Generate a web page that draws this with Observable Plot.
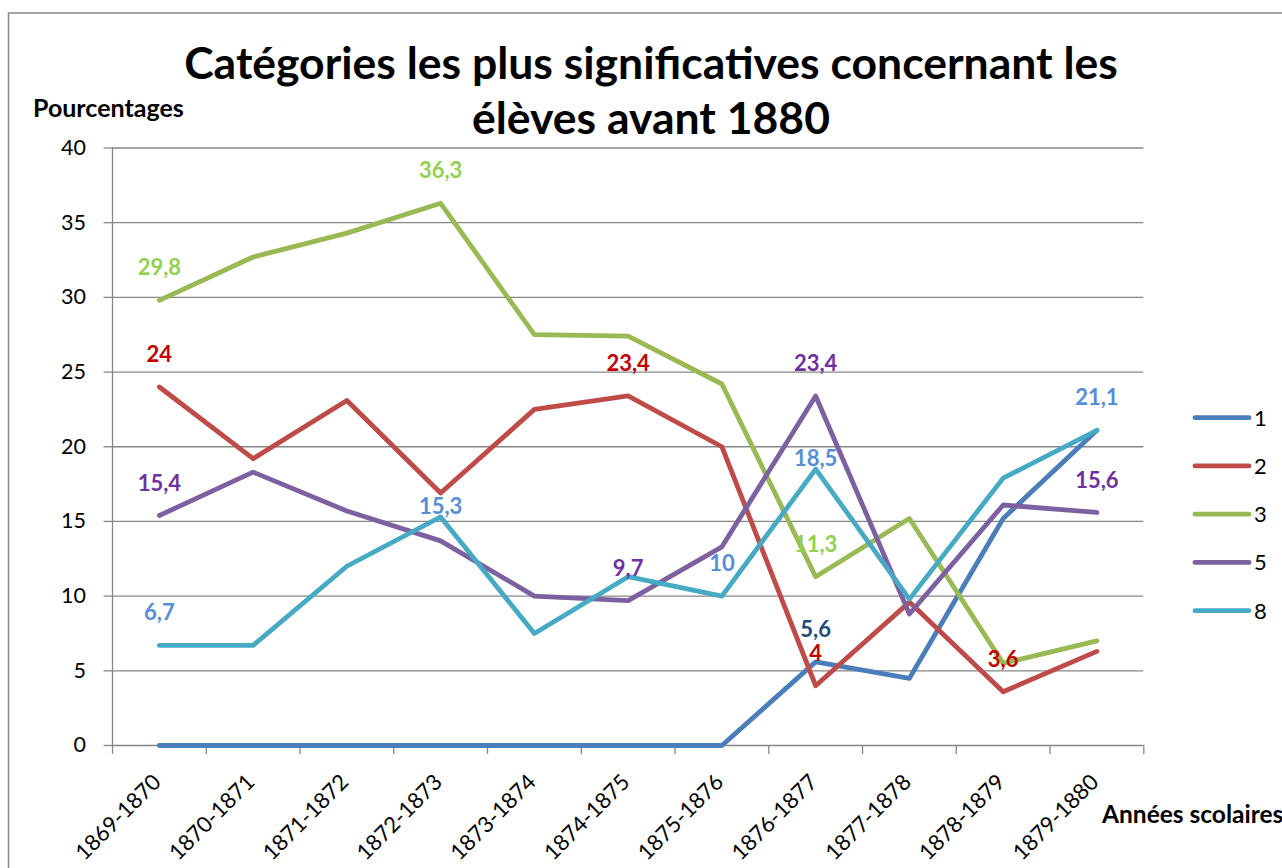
<!DOCTYPE html>
<html><head><meta charset="utf-8">
<script src="https://cdn.jsdelivr.net/npm/d3@7"></script>
<script src="https://cdn.jsdelivr.net/npm/@observablehq/plot@0.6"></script>
<style>
body{margin:0;background:#fff;overflow:hidden}
#chart{position:relative;width:1282px;height:868px}
</style>
</head><body><div id="chart"></div>
<script>
// ---- data ----
const categories = ["1869-1870","1870-1871","1871-1872","1872-1873","1873-1874","1874-1875","1875-1876","1876-1877","1877-1878","1878-1879","1879-1880"];
const seriesNames = ["1","2","3","5","8"];
const values1 = [0,0,0,0,0,0,0,5.6,4.5,15.2,21.1];
const values2 = [24,19.2,23.1,16.9,22.5,23.4,20,4,9.6,3.6,6.3];
const values3 = [29.8,32.7,34.3,36.3,27.5,27.4,24.2,11.3,15.2,5.5,7];
const values5 = [15.4,18.3,15.7,13.7,10,9.7,13.3,23.4,8.8,16.1,15.6];
const values8 = [6.7,6.7,12,15.3,7.5,11.3,10,18.5,9.8,17.9,21.1];
const seriesColors = ["#4A7EBB","#BE4B48","#98B954","#7D60A0","#46AAC5"];
const labelColors = ["#1F497D","#C00000","#92D050","#7030A0","#558ED5"];
// indices of the points that carry a value label, per series
const labelIdx1 = [7];
const labelIdx2 = [0,5,7,9];
const labelIdx3 = [0,3,7];
const labelIdx5 = [0,5,7,10];
const labelIdx8 = [0,3,6,7,10];
// labels placed close to their point rather than above it
const nearLabels = ["8:3","8:7"];
const yTicks = [0,5,10,15,20,25,30,35,40];
const titleLines = ["Catégories les plus significatives concernant les","élèves avant 1880"];
const yTitle = "Pourcentages";
const xTitle = "Années scolaires";

// ---- build ----
const allValues = [values1, values2, values3, values5, values8];
const allLabelIdx = [labelIdx1, labelIdx2, labelIdx3, labelIdx5, labelIdx8];
const fmt = v => String(v).replace(".", ",");
const edges = d3.range(-0.5, categories.length, 1);
const grid = "#868686";
const FONT = "Lato, 'Open Sans', sans-serif";

const lineMarks = allValues.map((vals, s) =>
  Plot.line(vals, {x: (d, i) => i, y: d => d, stroke: seriesColors[s], strokeWidth: 4.8,
    strokeLinecap: "round", strokeLinejoin: "round"}));

const labelMarks = allValues.flatMap((vals, s) => {
  const pts = allLabelIdx[s].map(i => ({i, v: vals[i], near: nearLabels.includes(seriesNames[s] + ":" + i)}));
  return [
    Plot.text(pts.filter(p => !p.near), {x: "i", y: "v", text: p => fmt(p.v), fill: labelColors[s],
      dy: -32, fontSize: 22, fontWeight: "bold"}),
    Plot.text(pts.filter(p => p.near), {x: "i", y: "v", text: p => fmt(p.v), fill: labelColors[s],
      dy: -10, fontSize: 22, fontWeight: "bold"})
  ];
});

const svg = Plot.plot({
  width: 1282, height: 868,
  marginLeft: 112, marginRight: 138.7, marginTop: 147.5, marginBottom: 123,
  x: {domain: [-0.5, categories.length - 0.5], axis: null},
  y: {domain: [0, 40], axis: null},
  style: {fontFamily: FONT, background: "white", color: "black", overflow: "visible"},
  marks: [
    Plot.ruleY(yTicks.filter(d => d > 0), {stroke: grid, strokeWidth: 1.3}),
    Plot.axisY({ticks: yTicks, tickSize: 8.5, tickPadding: 18, fontSize: 21.5, stroke: grid, fill: "black", strokeWidth: 1.3, label: null}),
    Plot.axisX({ticks: edges, tickSize: 9, tickFormat: () => "", stroke: grid, strokeWidth: 1.3, label: null}),
    Plot.ruleX([-0.5], {stroke: grid, strokeWidth: 1.3}),
    Plot.ruleY([0], {stroke: grid, strokeWidth: 1.3}),
    Plot.text(categories, {x: (d, i) => i, frameAnchor: "bottom", rotate: -45, textAnchor: "end",
      lineAnchor: "bottom", dx: 3, dy: 38, fontSize: 22, fill: "black"}),
    ...lineMarks,
    ...labelMarks
  ]
});

const S = d3.select(svg);
S.insert("rect", ":first-child").attr("x", 8.5).attr("y", 13).attr("width", 1400).attr("height", 1000)
  .attr("fill", "none").attr("stroke", "#898989").attr("stroke-width", 1.5);
S.insert("rect", ":first-child").attr("width", 1282).attr("height", 868).attr("fill", "white");

const title = S.append("g").attr("font-family", FONT).attr("font-weight", "bold").attr("font-size", 44.5)
  .attr("text-anchor", "middle").attr("fill", "black");
titleLines.forEach((t, k) => title.append("text").attr("x", 651).attr("y", 79 + k * 55).text(t));

S.append("text").attr("x", 33).attr("y", 117).attr("text-anchor", "start").attr("font-family", FONT).attr("font-weight", "bold")
  .attr("font-size", 25).attr("fill", "black").text(yTitle);
S.append("text").attr("x", 1102).attr("y", 823).attr("text-anchor", "start").attr("font-family", FONT).attr("font-weight", "bold")
  .attr("font-size", 24.5).attr("fill", "black").text(xTitle);

const legend = S.append("g").attr("font-family", FONT).attr("font-size", 22).attr("text-anchor", "start");
seriesNames.forEach((name, s) => {
  const y = 417.7 + s * 48.25;
  legend.append("line").attr("x1", 1195).attr("x2", 1249).attr("y1", y).attr("y2", y)
    .attr("stroke", seriesColors[s]).attr("stroke-width", 4.8).attr("stroke-linecap", "round");
  legend.append("text").attr("x", 1254).attr("y", y).attr("dy", "0.36em").attr("fill", "black").text(name);
});

document.getElementById("chart").appendChild(svg);
</script>
</body></html>
